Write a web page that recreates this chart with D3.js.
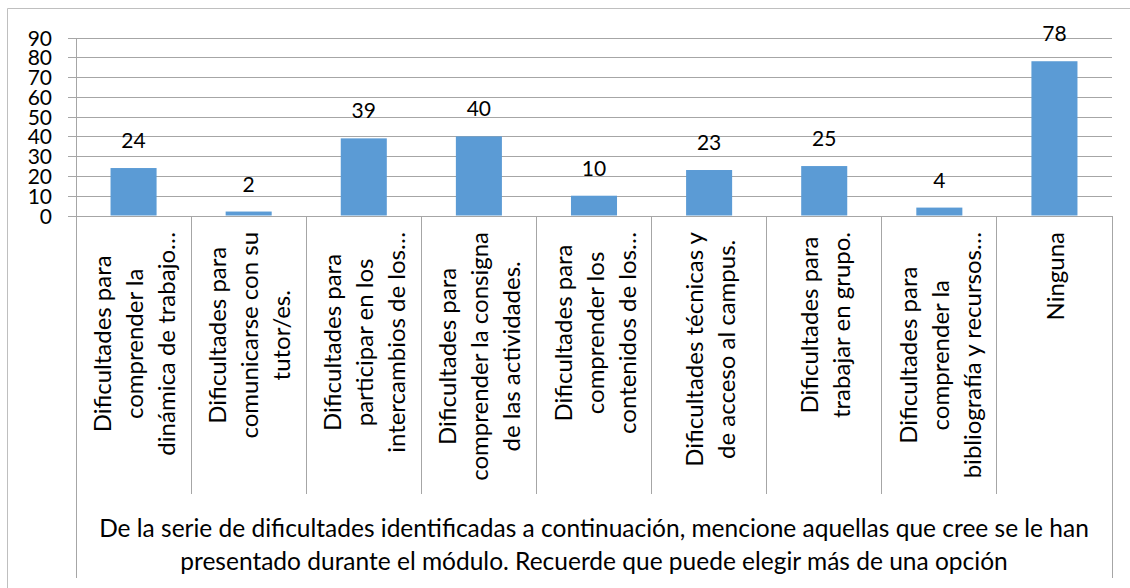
<!doctype html>
<html>
<head>
<meta charset="utf-8">
<script src="https://d3js.org/d3.v7.min.js"></script>
<style>
  body { margin: 0; background: #fff; }
  text { font-family: Lato, "Open Sans", sans-serif; fill: #000; }
</style>
</head>
<body>
<script>
// chart data
var categoryLines = [
  ["Dificultades para", "comprender la", "dinámica de trabajo…"],
  ["Dificultades para", "comunicarse con su", "tutor/es."],
  ["Dificultades para", "participar en los", "intercambios de los…"],
  ["Dificultades para", "comprender la consigna", "de las actividades."],
  ["Dificultades para", "comprender los", "contenidos de los…"],
  ["Dificultades técnicas y", "de acceso al campus."],
  ["Dificultades para", "trabajar en grupo."],
  ["Dificultades para", "comprender la", "bibliografía y recursos…"],
  ["Ninguna"]
];
var values = [24, 2, 39, 40, 10, 23, 25, 4, 78];
var yTicks = [0, 10, 20, 30, 40, 50, 60, 70, 80, 90];
var axisTitle = [
  "De la serie de dificultades identificadas a continuación, mencione aquellas que cree se le han",
  "presentado durante el módulo. Recuerde que puede elegir más de una opción"
];

var width = 1130, height = 588;
var plotLeft = 76, plotRight = 1112, plotTop = 37.5, plotBase = 215.5;
var catBottom = 494, titleBottom = 578;
var gridColor = '#a6a6a6';

var svg = d3.select('body').append('svg')
  .attr('width', width)
  .attr('height', height);

// outer chart border (top and left edges visible)
svg.append('path')
  .attr('d', 'M7.5,' + height + 'V8.5H' + width)
  .attr('fill', 'none')
  .attr('stroke', '#bfbfbf');

var idx = values.map(function(d, i) { return i; });

var x = d3.scaleBand()
  .domain(idx)
  .range([plotLeft, plotRight])
  .paddingInner(0.6)
  .paddingOuter(0.3);

var xCell = d3.scaleBand()
  .domain(idx)
  .range([plotLeft, plotRight]);

var y = d3.scaleLinear()
  .domain([0, 90])
  .range([plotBase, plotTop]);

// gridlines
var gy = svg.append('g')
  .attr('transform', 'translate(' + plotRight + ',0)')
  .call(d3.axisLeft(y).tickValues(yTicks).tickSize(plotRight - 68).tickFormat(''));
gy.select('.domain').remove();
gy.selectAll('.tick line')
  .attr('stroke', gridColor)
  .attr('shape-rendering', 'crispEdges');

// y tick labels
var gl = svg.append('g')
  .attr('transform', 'translate(' + plotLeft + ',0)')
  .call(d3.axisLeft(y).tickValues(yTicks).tickSize(0).tickPadding(24));
gl.select('.domain').remove();
gl.selectAll('.tick text')
  .style('font-size', '21px')
  .style('font-family', 'Lato, sans-serif')
  .attr('fill', '#000')
  .attr('dy', '0.36em');

// bars
svg.append('g')
  .selectAll('rect')
  .data(values)
  .enter()
  .append('rect')
  .attr('x', function(d, i) { return x(i); })
  .attr('y', function(d) { return y(d); })
  .attr('width', x.bandwidth())
  .attr('height', function(d) { return plotBase - y(d); })
  .attr('fill', '#5b9bd5');

// value labels
svg.append('g')
  .selectAll('text')
  .data(values)
  .enter()
  .append('text')
  .attr('x', function(d, i) { return x(i) + x.bandwidth() / 2; })
  .attr('y', function(d) { return y(d) - 20; })
  .attr('text-anchor', 'middle')
  .style('font-size', '21px')
  .text(function(d) { return d; });

// category table lines
var lines = svg.append('g')
  .attr('stroke', gridColor)
  .attr('shape-rendering', 'crispEdges');
lines.append('line')
  .attr('x1', plotLeft).attr('x2', plotLeft)
  .attr('y1', plotTop).attr('y2', titleBottom);
lines.append('line')
  .attr('x1', plotRight).attr('x2', plotRight)
  .attr('y1', plotBase).attr('y2', titleBottom);
lines.selectAll('.sep')
  .data(idx.slice(1))
  .enter()
  .append('line')
  .attr('class', 'sep')
  .attr('x1', function(i) { return xCell(i); })
  .attr('x2', function(i) { return xCell(i); })
  .attr('y1', plotBase).attr('y2', catBottom);

// rotated category labels
var lineGap = 32, labelTop = 232;
var cat = svg.append('g')
  .selectAll('g')
  .data(categoryLines)
  .enter()
  .append('g');

cat.each(function(linesArr, i) {
  var g = d3.select(this);
  var t = g.selectAll('text')
    .data(linesArr)
    .enter()
    .append('text')
    .attr('text-anchor', 'middle')
    .attr('dominant-baseline', 'central')
    .attr('x', 0)
    .attr('y', function(d, j) { return (j - (linesArr.length - 1) / 2) * lineGap; })
    .style('font-size', '24px')
    .text(function(d) { return d; });
  var maxW = d3.max(t.nodes(), function(n) { return n.getComputedTextLength(); });
  var cx = xCell(i) + xCell.bandwidth() / 2;
  g.attr('transform', 'translate(' + cx + ',' + (labelTop + maxW / 2) + ') rotate(-90)');
});

// axis title
svg.append('g')
  .selectAll('text')
  .data(axisTitle)
  .enter()
  .append('text')
  .attr('x', (plotLeft + plotRight) / 2)
  .attr('y', function(d, i) { return 537 + i * 33; })
  .attr('text-anchor', 'middle')
  .style('font-size', '24.5px')
  .text(function(d) { return d; });
</script>
</body>
</html>
